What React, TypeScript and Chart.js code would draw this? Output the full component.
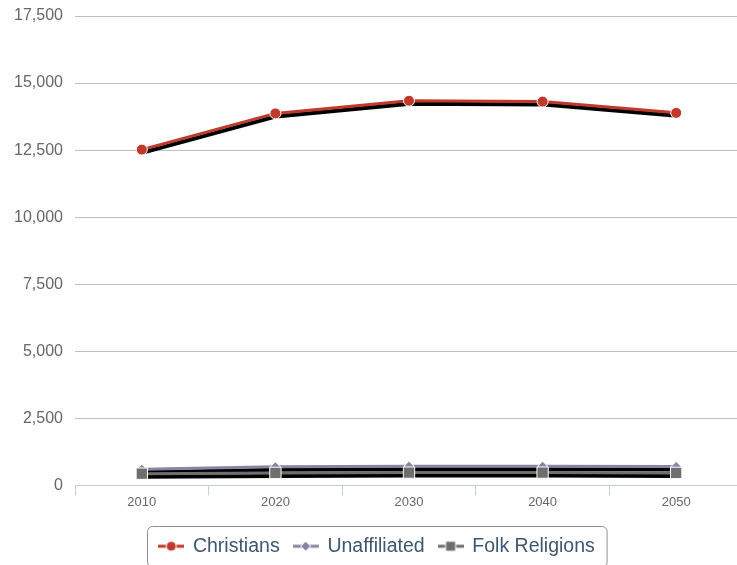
import React, { useEffect, useRef } from "react";
import { Chart, registerables } from "chart.js";

Chart.register(...registerables);

const years = ["2010", "2020", "2030", "2040", "2050"];
const christians = [12520, 13870, 14340, 14310, 13890];
const unaffiliated = [610, 700, 720, 720, 710];
const folkReligions = [440, 470, 480, 480, 470];
const seriesNames = ["Christians", "Unaffiliated", "Folk Religions"];
const seriesColors = ["#c0392b", "#8a84a0", "#6e6e6e"];
const yMin = 0;
const yMax = 17500;
const yStep = 2500;

const FONT = '"Liberation Sans", Arial, Helvetica, sans-serif';

function makeSymbol(color: string, shape: string) {
  const c = document.createElement("canvas");
  c.width = 26;
  c.height = 14;
  const g = c.getContext("2d")!;
  g.strokeStyle = color;
  g.lineWidth = 3;
  g.beginPath();
  g.moveTo(0, 7);
  g.lineTo(26, 7);
  g.stroke();
  g.fillStyle = color;
  g.strokeStyle = "#ffffff";
  g.lineWidth = 1;
  g.beginPath();
  if (shape === "circle") {
    g.arc(13, 7, 5, 0, Math.PI * 2);
  } else if (shape === "diamond") {
    g.moveTo(13, 2);
    g.lineTo(18, 7);
    g.lineTo(13, 12);
    g.lineTo(8, 7);
    g.closePath();
  } else {
    g.rect(8, 2, 10, 10);
  }
  g.fill();
  g.stroke();
  return c;
}

const shadowPlugin = {
  id: "lineShadow",
  beforeDatasetDraw(chart: any, args: any) {
    const meta = args.meta;
    if (meta.hidden) return;
    const ctx = chart.ctx;
    ctx.save();
    ctx.strokeStyle = "#000";
    ctx.lineWidth = 4;
    ctx.lineJoin = "round";
    ctx.beginPath();
    meta.data.forEach((p: any, j: number) => {
      const x = p.x + 1;
      const y = p.y + 3;
      if (j === 0) ctx.moveTo(x, y);
      else ctx.lineTo(x, y);
    });
    ctx.stroke();
    ctx.restore();
  },
};

const legendBoxPlugin = {
  id: "legendBox",
  afterDraw(chart: any) {
    const lg = chart.legend;
    const hb = lg && lg.legendHitBoxes;
    if (!hb || !hb.length) return;
    const left = Math.min(...hb.map((h: any) => h.left)) - 12;
    const right = Math.max(...hb.map((h: any) => h.left + h.width)) + 12;
    const top = hb[0].top - 10.5;
    const bottom = hb[0].top + hb[0].height + 10.5;
    const ctx = chart.ctx;
    ctx.save();
    ctx.strokeStyle = "#909090";
    ctx.lineWidth = 1;
    ctx.beginPath();
    ctx.roundRect(Math.round(left) + 0.5, Math.round(top) + 0.5, right - left, bottom - top, 5);
    ctx.stroke();
    ctx.restore();
  },
};

export default function App() {
  const ref = useRef<HTMLCanvasElement>(null);

  useEffect(() => {
    const symbols = [
      makeSymbol(seriesColors[0], "circle"),
      makeSymbol(seriesColors[1], "diamond"),
      makeSymbol(seriesColors[2], "square"),
    ];
    const chart = new Chart(ref.current!, {
      type: "line",
      data: {
        labels: years,
        datasets: [
          {
            label: seriesNames[0],
            data: christians,
            borderColor: seriesColors[0],
            backgroundColor: seriesColors[0],
            borderWidth: 3,
            pointStyle: "circle",
            pointRadius: 5.5,
            pointBorderColor: "#ffffff",
            pointBorderWidth: 1,
            tension: 0,
            order: 2,
          },
          {
            label: seriesNames[1],
            data: unaffiliated,
            borderColor: seriesColors[1],
            backgroundColor: seriesColors[1],
            borderWidth: 3,
            pointStyle: "rectRot",
            pointRadius: 5,
            pointBorderColor: "#ffffff",
            pointBorderWidth: 1,
            tension: 0,
            order: 1,
          },
          {
            label: seriesNames[2],
            data: folkReligions,
            borderColor: seriesColors[2],
            backgroundColor: seriesColors[2],
            borderWidth: 3,
            pointStyle: "rect",
            pointRadius: 8,
            pointBorderColor: "#ffffff",
            pointBorderWidth: 1,
            tension: 0,
            order: 0,
          },
        ],
      },
      options: {
        responsive: false,
        animation: false,
        events: [],
        layout: { padding: { left: 11, right: 9, top: 16, bottom: 0 } },
        scales: {
          x: {
            type: "category",
            offset: true,
            grid: {
              display: true,
              offset: true,
              drawOnChartArea: false,
              drawTicks: true,
              tickLength: 10,
              color: "#c0d0e0",
            },
            border: { display: true, color: "#c0d0e0", width: 1 },
            ticks: {
              color: "#666666",
              font: { family: FONT, size: 13 },
              padding: -1,
              maxRotation: 0,
            },
            afterFit(scale: any) {
              scale.height = 37;
              scale.paddingLeft = 0;
              scale.paddingRight = 0;
            },
          },
          y: {
            min: yMin,
            max: yMax,
            grid: {
              drawTicks: false,
              color: (c: any) => (c.tick && c.tick.value === 0 ? "rgba(0,0,0,0)" : "#c0c0c0"),
              lineWidth: 1,
            },
            border: { display: false },
            ticks: {
              stepSize: yStep,
              color: "#666666",
              padding: 12,
              font: { family: FONT, size: 16 },
              callback: (v: any) => Number(v).toLocaleString("en-US"),
            },
            afterFit(scale: any) {
              scale.width = 64;
              scale.paddingTop = 0;
              scale.paddingBottom = 0;
            },
          },
        },
        plugins: {
          tooltip: { enabled: false },
          legend: {
            display: true,
            position: "bottom",
            labels: {
              usePointStyle: true,
              pointStyleWidth: 24,
              padding: 14,
              color: "#3e576f",
              font: { family: FONT, size: 19.5 },
              generateLabels: (ch: any) => {
                const items = (Chart.defaults.plugins.legend.labels as any).generateLabels(ch);
                items.forEach((it: any) => {
                  it.pointStyle = symbols[it.datasetIndex];
                });
                return items;
              },
              sort: (a: any, b: any) => a.datasetIndex - b.datasetIndex,
            },
          },
        },
      },
      plugins: [shadowPlugin, legendBoxPlugin],
    } as any);
    return () => chart.destroy();
  }, []);

  return (
    <div
      style={{
        position: "absolute",
        left: 0,
        top: 0,
        width: 737,
        height: 565,
        overflow: "hidden",
        background: "#ffffff",
      }}
    >
      <canvas ref={ref} width={752} height={566} style={{ display: "block" }} />
    </div>
  );
}
